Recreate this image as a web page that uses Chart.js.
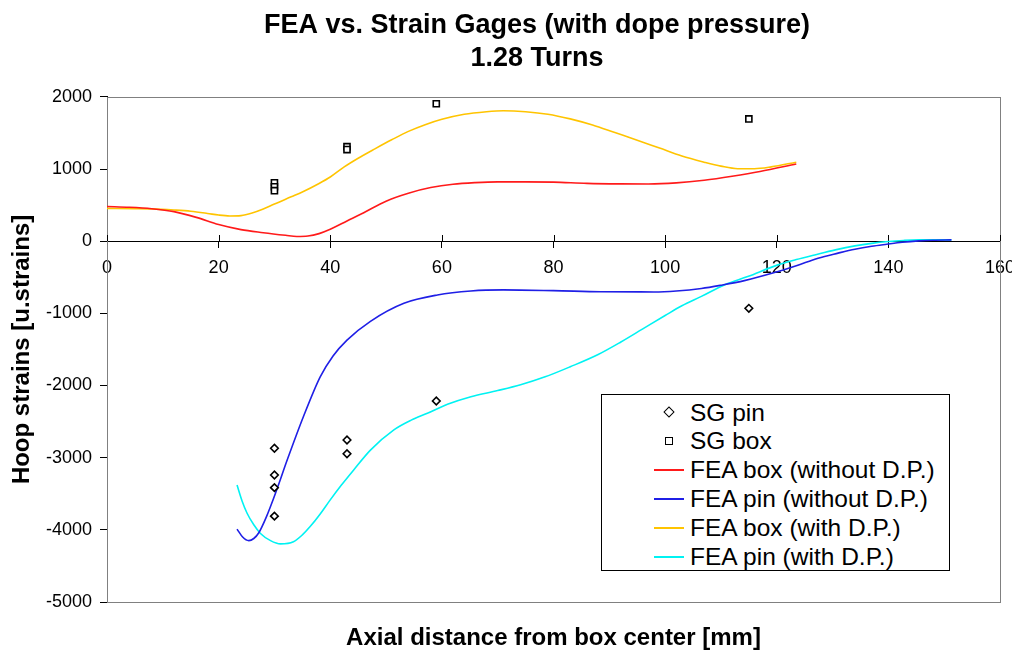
<!DOCTYPE html>
<html><head><meta charset="utf-8">
<script src="https://cdn.jsdelivr.net/npm/chart.js@4.4.1/dist/chart.umd.min.js"></script>
<style>
html,body{margin:0;padding:0;background:#fff;}
#wrap{position:relative;width:1012px;height:650px;}
#legend{position:absolute;left:601px;top:394px;width:349px;height:177px;border:1px solid #000;background:#fff;box-sizing:border-box;font-family:"Liberation Sans",Arial,sans-serif;font-size:24.5px;color:#000;}
.row{position:absolute;left:0;width:100%;height:29px;}
.mk{position:absolute;top:50%;}
.tx{position:absolute;left:88px;top:50%;transform:translateY(-50%);white-space:nowrap;line-height:1;}
</style></head>
<body><div id="wrap"><canvas id="c" width="1012" height="650"></canvas><div id="legend"></div></div>
<script>
const FONT = '"Liberation Sans", Arial, sans-serif';

// SG measurements
const sgPinX = [30, 30, 30, 30, 43, 43, 59, 115];
const sgPinY = [-2870, -3240, -3415, -3810, -2755, -2945, -2215, -930];
const sgBoxX = [30, 30, 30, 43, 43, 59, 115];
const sgBoxY = [810, 755, 700, 1310, 1270, 1905, 1695];

// FEA box (without D.P.)
const boxNoDPX = [0, 4, 8, 12, 16, 20, 24, 28, 32, 34, 36, 38, 40, 43, 46, 50, 54, 58, 62, 66, 70, 75, 80, 86, 92, 97, 102, 107, 112, 117, 123.5];
const boxNoDPY = [480, 470, 450, 410, 330, 230, 160, 118, 82, 66, 72, 105, 165, 280, 395, 555, 665, 743, 790, 812, 822, 822, 818, 802, 795, 793, 808, 845, 900, 965, 1070];

// FEA pin (without D.P.)
const pinNoDPX = [23.3, 24.3, 25.4, 26.3, 27.2, 28.5, 30.2, 32.3, 35.2, 38.2, 40.5, 43, 47.2, 53.2, 59.2, 65.2, 71, 80, 88.5, 98, 102, 106.5, 110, 114.2, 119.6, 123.5, 127.4, 131, 134, 137, 139.7, 142.5, 145.4, 148, 151.3];
const pinNoDPY = [-3990, -4100, -4150, -4120, -4040, -3830, -3490, -3030, -2430, -1880, -1590, -1370, -1110, -860, -745, -690, -675, -685, -700, -703, -690, -655, -610, -546, -435, -340, -236, -165, -111, -70, -42, -15, 4, 14, 18];

// FEA box (with D.P.)
const boxDPX = [0, 5, 8, 12, 15, 18, 20, 22, 24, 26, 28, 30, 33, 35, 38, 40, 42.5, 45, 48, 51, 54, 57, 60, 64, 68, 71, 75, 79, 83, 87, 91, 95, 99, 103, 107, 110, 113, 116, 119, 123.5];
const boxDPY = [455, 452, 448, 432, 415, 385, 362, 350, 355, 390, 445, 515, 615, 682, 800, 890, 1030, 1150, 1280, 1405, 1522, 1615, 1690, 1760, 1795, 1808, 1795, 1760, 1695, 1610, 1505, 1400, 1290, 1180, 1095, 1040, 1005, 1005, 1030, 1095];

// FEA pin (with D.P.)
const pinDPX = [23.3, 24.2, 25.1, 26.3, 27.5, 29.3, 31.1, 33.4, 35, 36.4, 38.2, 40, 42, 44.2, 47.2, 51.4, 54.5, 57.4, 61, 65.2, 70, 74.1, 78.5, 83, 88, 92, 96, 100, 103, 106.5, 110.6, 114.8, 120.2, 123.5, 126.8, 130.5, 134, 137, 140, 142.7, 145.4, 151.3];
const pinDPY = [-3380, -3600, -3770, -3930, -4050, -4150, -4195, -4165, -4070, -3955, -3780, -3585, -3380, -3170, -2895, -2615, -2480, -2385, -2260, -2155, -2070, -1990, -1880, -1740, -1570, -1400, -1215, -1030, -895, -765, -606, -490, -328, -255, -190, -120, -65, -30, -5, 10, 18, 18];

const xTickValues = [0, 20, 40, 60, 80, 100, 120, 140, 160];
const yTickValues = [2000, 1000, 0, -1000, -2000, -3000, -4000, -5000];
const titleLines = ['FEA vs. Strain Gages (with dope pressure)', '1.28 Turns'];

function pts(xs, ys) { return xs.map((x, i) => ({x: x, y: ys[i]})); }

const lineCommon = {showLine: true, pointRadius: 0, borderWidth: 1.6, cubicInterpolationMode: 'monotone', order: 1, mk: 'line'};
const datasets = [
  {label: 'SG pin', data: pts(sgPinX, sgPinY), showLine: false, pointStyle: 'rectRot', pointRadius: 3.8, pointBorderWidth: 1.6, borderColor: '#000', backgroundColor: '#fff', order: 0, mk: 'diamond'},
  {label: 'SG box', data: pts(sgBoxX, sgBoxY), showLine: false, pointStyle: 'rect', pointRadius: 4.3, pointBorderWidth: 1.6, borderColor: '#000', backgroundColor: '#fff', order: 0, mk: 'square'},
  Object.assign({label: 'FEA box (without D.P.)', data: pts(boxNoDPX, boxNoDPY), borderColor: '#ff1a1a'}, lineCommon),
  Object.assign({label: 'FEA pin (without D.P.)', data: pts(pinNoDPX, pinNoDPY), borderColor: '#1f1fe6'}, lineCommon),
  Object.assign({label: 'FEA box (with D.P.)', data: pts(boxDPX, boxDPY), borderColor: '#ffc400'}, lineCommon),
  Object.assign({label: 'FEA pin (with D.P.)', data: pts(pinDPX, pinDPY), borderColor: '#00f2f2'}, lineCommon)
];

const framePlugin = {
  id: 'frame',
  afterLayout(chart) {
    // the reference title is centred a little right of the canvas centre
    const t = chart.titleBlock;
    if (t) { t.left += 37; t.right += 37; }
  },
  beforeDatasetsDraw(chart) {
    const {ctx, chartArea: a, scales} = chart;
    ctx.save();
    ctx.strokeStyle = '#808080';
    ctx.lineWidth = 1;
    ctx.strokeRect(Math.round(a.left) + 0.5, Math.round(a.top) + 0.5, Math.round(a.right - a.left), Math.round(a.bottom - a.top));
    const xs = scales.x;
    const y0 = Math.round(scales.y.getPixelForValue(0));
    ctx.strokeStyle = '#000';
    xs.ticks.forEach(t => {
      const px = Math.round(xs.getPixelForValue(t.value)) + 0.5;
      ctx.beginPath(); ctx.moveTo(px, y0 - 6); ctx.lineTo(px, y0); ctx.stroke();
    });
    ctx.restore();
  }
};

new Chart(document.getElementById('c'), {
  type: 'scatter',
  data: {datasets: datasets},
  options: {
    responsive: false, animation: false, devicePixelRatio: 1,
    layout: {padding: {left: 0, right: 12, top: 0, bottom: 0}},
    plugins: {
      legend: {display: false}, tooltip: {enabled: false},
      title: {display: true, text: titleLines, color: '#000',
        font: {family: FONT, size: 27, weight: 'bold', lineHeight: 1.22}, padding: {top: 9, bottom: 22}}
    },
    scales: {
      x: {type: 'linear', position: {y: 0}, min: 0, max: 160,
        afterBuildTicks(s) { s.ticks = xTickValues.map(v => ({value: v})); },
        afterFit(s) { s.paddingLeft = 0; s.paddingRight = 0; },
        ticks: {autoSkip: false, maxRotation: 0, color: '#000', padding: 10, font: {family: FONT, size: 18},
          callback: v => String(v)},
        grid: {drawOnChartArea: false, drawTicks: true, tickLength: 6, color: '#000'},
        border: {color: '#000', width: 1}},
      xb: {type: 'linear', position: 'bottom', min: 0, max: 160,
        afterFit(s) { s.paddingLeft = 0; s.paddingRight = 0; },
        ticks: {display: false}, grid: {display: false, drawTicks: false}, border: {display: false},
        title: {display: true, text: 'Axial distance from box center [mm]', color: '#000',
          font: {family: FONT, size: 24, weight: 'bold', lineHeight: 1}, padding: {top: 24, bottom: 0}}},
      y: {type: 'linear', min: -5000, max: 2000,
        afterBuildTicks(s) { s.ticks = yTickValues.map(v => ({value: v})); },
        afterFit(s) { s.width = 107; },
        ticks: {color: '#000', padding: 8, font: {family: FONT, size: 18}, callback: v => String(v)},
        grid: {drawOnChartArea: false, tickLength: 7, color: '#000'},
        border: {color: '#000', width: 1},
        title: {display: true, text: 'Hoop strains [u.strains]', color: '#000',
          font: {family: FONT, size: 24, weight: 'bold', lineHeight: 1}, padding: {top: 10, bottom: 0}}}
    }
  },
  plugins: [framePlugin]
});

// HTML legend built from the datasets
const leg = document.getElementById('legend');
datasets.forEach((d, i) => {
  const row = document.createElement('div');
  row.className = 'row';
  row.style.top = (3 + 28.8 * i) + 'px';
  const mk = document.createElement('div');
  mk.className = 'mk';
  if (d.mk === 'line') {
    mk.style.cssText = 'left:52px;width:30px;height:0;border-top:2px solid ' + d.borderColor + ';margin-top:-1px;';
  } else if (d.mk === 'diamond') {
    mk.style.cssText = 'left:63px;width:6px;height:6px;border:1.5px solid #000;transform:rotate(45deg);margin-top:-4.5px;background:#fff;';
  } else {
    mk.style.cssText = 'left:63px;width:6px;height:6px;border:1.5px solid #000;margin-top:-4.5px;background:#fff;';
  }
  const tx = document.createElement('div');
  tx.className = 'tx';
  tx.textContent = d.label;
  row.appendChild(mk); row.appendChild(tx);
  leg.appendChild(row);
});
</script></body></html>
